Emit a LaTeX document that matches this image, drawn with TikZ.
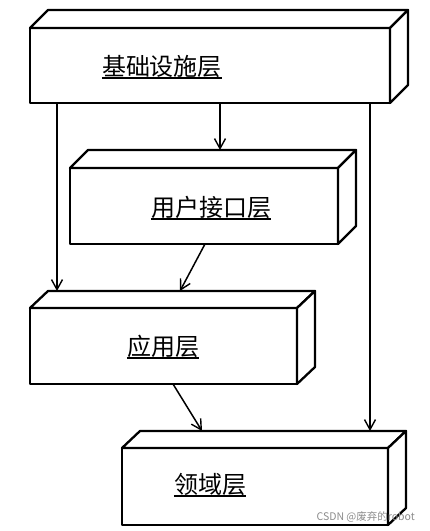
\documentclass[tikz,border=0pt]{standalone}
\usepackage{fontspec}
\newfontfamily\cjk{Noto Sans CJK SC}
\usetikzlibrary{arrows.meta,calc}
\begin{document}
\begin{tikzpicture}[x=1pt,y=-1pt,
  face/.style={draw=black, line width=2.3pt, fill=white, line join=round},
  front/.style={face, outer sep=0pt, inner sep=0pt, anchor=north west},
  lbl/.style={font=\cjk\fontsize{24}{24}\selectfont, inner sep=0pt},
  ul/.style={line width=1.3pt},
  arr/.style={-{Straight Barb[length=10pt,width=11pt,line width=1.4pt]}, line width=1.5pt},
  wm/.style={font=\cjk\fontsize{10.5}{10.5}\selectfont, text=black!45, inner sep=0pt}]
\useasboundingbox (0,0) rectangle (430,531);
\fill[white] (0,0) rectangle (430,531);

% Box 1
\node[front, minimum width=360pt, minimum height=75pt] (b1) at (30,28) {};
\draw[face] (b1.north west) -- ++(18,-18) -- ($(b1.north east)+(18,-18)$) -- (b1.north east) -- cycle;
\draw[face] (b1.north east) -- ++(18,-18) -- ($(b1.south east)+(18,-18)$) -- (b1.south east) -- cycle;
\coordinate (b1top) at ($(b1.north west)+(18,-18)$);
\node[lbl] (t1) at (162,66) {基础设施层};
\draw[ul] ($(t1.west)+(0,12)$) -- ($(t1.east)+(0,12)$);

% Box 2
\node[front, minimum width=268pt, minimum height=76pt] (b2) at (70,168) {};
\draw[face] (b2.north west) -- ++(18,-18) -- ($(b2.north east)+(18,-18)$) -- (b2.north east) -- cycle;
\draw[face] (b2.north east) -- ++(18,-18) -- ($(b2.south east)+(18,-18)$) -- (b2.south east) -- cycle;
\coordinate (b2top) at ($(b2.north west)+(18,-18)$);
\node[lbl] (t2) at (211,207) {用户接口层};
\draw[ul] ($(t2.west)+(0,12)$) -- ($(t2.east)+(0,12)$);

% Box 3
\node[front, minimum width=267pt, minimum height=76pt] (b3) at (30,308) {};
\draw[face] (b3.north west) -- ++(18,-17) -- ($(b3.north east)+(18,-17)$) -- (b3.north east) -- cycle;
\draw[face] (b3.north east) -- ++(18,-17) -- ($(b3.south east)+(18,-17)$) -- (b3.south east) -- cycle;
\coordinate (b3top) at ($(b3.north west)+(18,-17)$);
\node[lbl] (t3) at (163,346) {应用层};
\draw[ul] ($(t3.west)+(0,12)$) -- ($(t3.east)+(0,12)$);

% Box 4
\node[front, minimum width=266pt, minimum height=77pt] (b4) at (122,448) {};
\draw[face] (b4.north west) -- ++(18,-17) -- ($(b4.north east)+(18,-17)$) -- (b4.north east) -- cycle;
\draw[face] (b4.north east) -- ++(18,-17) -- ($(b4.south east)+(18,-17)$) -- (b4.south east) -- cycle;
\coordinate (b4top) at ($(b4.north west)+(18,-17)$);
\node[lbl] (t4) at (210,484) {领域层};
\draw[ul] ($(t4.west)+(0,12)$) -- ($(t4.east)+(0,12)$);

% connector x positions
\coordinate (xl) at (57,0);
\coordinate (xm) at (220,0);
\coordinate (xr) at (370,0);
\coordinate (x2s) at (205,0);
\coordinate (x3e) at (180,0);
\coordinate (x3s) at (173,0);
\coordinate (x4e) at (202,0);

\draw[arr] (b1.south -| xl) -- (b3top -| xl);
\draw[arr] (b1.south -| xm) -- (b2top -| xm);
\draw[arr] (b1.south -| xr) -- (b4top -| xr);
\draw[arr] (b2.south -| x2s) -- (b3top -| x3e);
\draw[arr] (b3.south -| x3s) -- (b4top -| x4e);

\node[wm, anchor=east] (wm) at (415,517) {CSDN @废弃的robot};
\end{tikzpicture}
\end{document}
